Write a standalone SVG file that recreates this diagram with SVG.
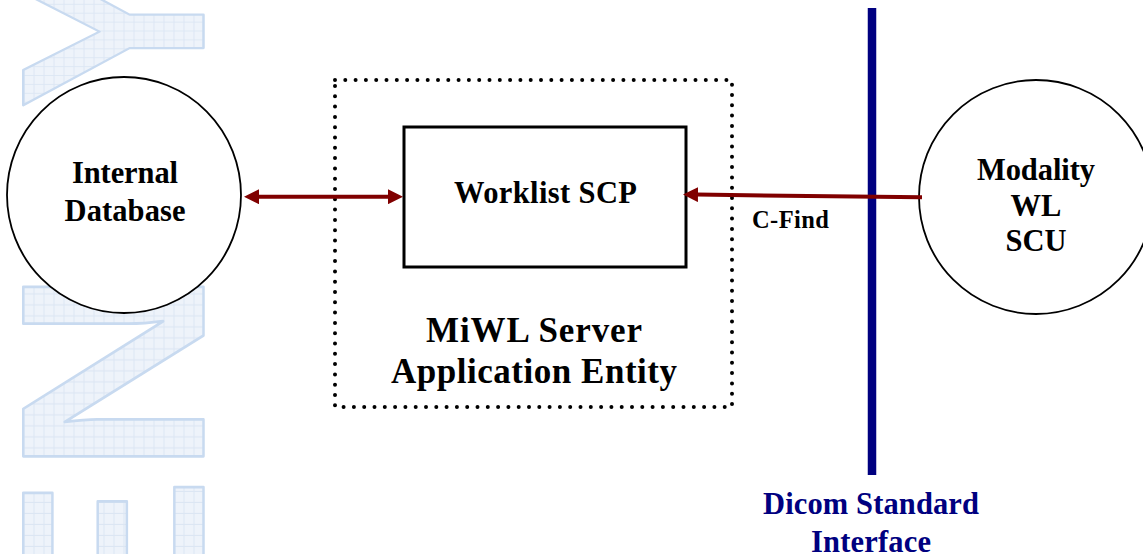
<svg xmlns="http://www.w3.org/2000/svg" width="1143" height="554" viewBox="0 0 1143 554">
<defs>
<pattern id="grid" patternUnits="userSpaceOnUse" width="10" height="10">
<rect width="10" height="10" fill="#eef3fa"/>
<path d="M0,0.5 H10 M0.5,0 V10" stroke="#dce6f3" stroke-width="1" fill="none"/>
</pattern>
<marker id="arrow" markerUnits="userSpaceOnUse" markerWidth="15" markerHeight="15" viewBox="0 0 15 15" refX="1" refY="7.5" orient="auto-start-reverse">
<path d="M0,0 L15,7.5 L0,15 z" fill="#800000"/>
</marker>
<style>
.wm { font-family: "Liberation Sans", Arial, sans-serif; font-weight: bold; font-size: 262px; fill: url(#grid); stroke: #c8daf0; stroke-width: 2.5; stroke-linejoin: round; }
.lbl { font-family: "Liberation Serif", "Times New Roman", serif; font-weight: bold; font-size: 30.5px; fill: #000000; text-anchor: middle; }
.big { font-size: 35px; }
.navy { fill: #000080; }
.circle { fill: #ffffff; stroke: #000000; stroke-width: 1.8; }
.conn { stroke: #800000; stroke-width: 4; fill: none; }
</style>
</defs>
<rect width="1143" height="554" fill="#ffffff"/>

<g id="watermark">
<text class="wm" text-anchor="middle" transform="translate(203.5,31.5) rotate(-90) scale(0.89,1)">Y</text>
<text class="wm" text-anchor="middle" transform="translate(203.5,371.5) rotate(-90) scale(1.1,1)">N</text>
<text class="wm" transform="translate(203.5,668) rotate(-90) scale(1.1,1)">E</text>
</g>

<g id="dicom-interface">
<line x1="872" y1="8" x2="872" y2="475" stroke="#000080" stroke-width="8.5"/>
<text class="lbl navy" x="871" y="514" textLength="216">Dicom Standard</text>
<text class="lbl navy" x="871" y="551.5" textLength="120">Interface</text>
</g>

<g id="miwl-server-ae">
<rect x="335" y="80" width="397" height="327" fill="none" stroke="#000000" stroke-width="4" stroke-dasharray="0 10.3" stroke-linecap="round"/>
<text class="lbl big" x="534" y="342" textLength="216">MiWL Server</text>
<text class="lbl big" x="534" y="383" textLength="286">Application Entity</text>
</g>

<g id="internal-database">
<ellipse class="circle" cx="124" cy="195" rx="117" ry="118"/>
<text class="lbl" x="125" y="183" textLength="106">Internal</text>
<text class="lbl" x="125" y="221" textLength="121">Database</text>
</g>

<g id="worklist-scp">
<rect x="404" y="127" width="282" height="140" fill="#ffffff" stroke="#000000" stroke-width="3"/>
<text class="lbl" x="545.5" y="203" textLength="183">Worklist SCP</text>
</g>

<g id="modality-wl-scu">
<circle class="circle" cx="1036" cy="197" r="117"/>
<text class="lbl" x="1036" y="180" textLength="118">Modality</text>
<text class="lbl" x="1036" y="216">WL</text>
<text class="lbl" x="1036" y="251">SCU</text>
</g>

<g id="connectors">
<line class="conn" x1="258" y1="196.7" x2="389" y2="196.7" marker-start="url(#arrow)" marker-end="url(#arrow)"/>
<line class="conn" x1="922" y1="197.3" x2="697" y2="194.6" marker-end="url(#arrow)"/>
<text class="lbl" style="text-anchor:start;font-size:24.5px" x="752" y="228" textLength="77">C-Find</text>
</g>
</svg>
